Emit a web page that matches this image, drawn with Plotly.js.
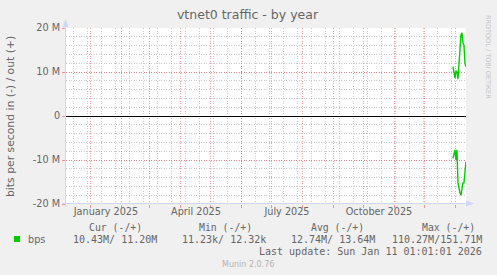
<!DOCTYPE html>
<html><head><meta charset="utf-8">
<script src="https://cdn.plot.ly/plotly-3.0.1.min.js"></script>
<style>html,body{margin:0;padding:0;background:#f0f0f0;}#chart{width:497px;height:275px;}</style>
</head><body><div id="chart"></div>
<script>
// ---- data ----
const days = ['2025-12-29','2025-12-30','2025-12-31','2026-01-01','2026-01-02','2026-01-03','2026-01-04',
              '2026-01-05','2026-01-06','2026-01-07','2026-01-08','2026-01-09','2026-01-10','2026-01-11'];
const outBps = [11.2e6,10.0e6,8.6e6,10.3e6,10.0e6,8.4e6,12.5e6,16.6e6,18.4e6,18.9e6,16.6e6,16.1e6,12.0e6,11.2e6];
const inBps  = [9.6e6,8.2e6,7.7e6,10.0e6,7.7e6,15.2e6,16.5e6,17.5e6,18.0e6,16.0e6,15.2e6,15.2e6,11.5e6,10.43e6];

const monthStarts = ['2025-01-01','2025-02-01','2025-03-01','2025-04-01','2025-05-01','2025-06-01','2025-07-01',
                     '2025-08-01','2025-09-01','2025-10-01','2025-11-01','2025-12-01','2026-01-01'];
const xLabelDates = ['2025-01-16','2025-04-16','2025-07-16','2025-10-16'];
const xLabelText  = ['January 2025','April 2025','July 2025','October 2025'];
const yTickVals = [-20e6,-10e6,0,10e6,20e6];
const yTickText = ['-20 M','-10 M','0','10 M','20 M'];

const seriesName = 'bps';
const statHeads = ['Cur (-/+)','Min (-/+)','Avg (-/+)','Max (-/+)'];
const statVals  = ['10.43M/ 11.20M','11.23k/ 12.32k','12.74M/ 13.64M','110.27M/151.71M'];
const lastUpdate = 'Sun Jan 11 01:01:01 2026';
const titleText = 'vtnet0 traffic - by year';
const yTitle = 'bits per second in (-) / out (+)';

// ---- layout helpers (pixel -> paper) ----
const L = 66, T = 28, W = 400, H = 176;
const px = x => (x - L) / W;
const py = y => (T + H - y) / H;

const FONT = '#666666';
const GRID = 'rgba(150,150,150,0.5)';
const MGRID = 'rgba(225,80,80,0.55)';
const AXIS = '#CFD6F8';
const GREEN = '#00CC00';
const DOT = '1px,1.5px';

const negIn = inBps.map(v => -v);

const traces = [
  {x: days, y: outBps, type: 'scatter', mode: 'lines', line: {color: GREEN, width: 1.4}, hoverinfo: 'skip', showlegend: false},
  {x: days, y: negIn, type: 'scatter', mode: 'lines', line: {color: GREEN, width: 1.4}, hoverinfo: 'skip', showlegend: false},
  {x: xLabelDates, y: xLabelDates.map(() => null), xaxis: 'x2', yaxis: 'y', type: 'scatter', mode: 'lines', hoverinfo: 'skip', showlegend: false}
];

const xRange = ['2024-12-07 01:01:01', '2026-01-11 01:01:01'];

const ann = [];
ann.push({text: yTitle, x: px(11), y: py(117), xref: 'paper', yref: 'paper', showarrow: false, textangle: -90,
  xanchor: 'center', yanchor: 'middle', font: {family: 'DejaVu Sans', size: 10.8, color: FONT}});
ann.push({text: 'RRDTOOL / TOBI OETIKER', x: px(488), y: py(57), xref: 'paper', yref: 'paper', showarrow: false, textangle: 90,
  xanchor: 'center', yanchor: 'middle', font: {family: 'DejaVu Sans', size: 6.5, color: '#c4c4c4'}});
const headRight = [142.7, 253, 365, 476];
const valRight = [158.3, 266.7, 375.7, 483.3];
statHeads.forEach((h, i) => ann.push({text: h, x: px(headRight[i]), y: py(227.7), xref: 'paper', yref: 'paper', showarrow: false,
  xanchor: 'right', yanchor: 'middle', borderpad: 0, font: {family: 'DejaVu Sans Mono', size: 9.8, color: FONT}}));
statVals.forEach((v, i) => ann.push({text: v.replace(/ /g, '&nbsp;'), x: px(valRight[i]), y: py(239.3), xref: 'paper', yref: 'paper', showarrow: false,
  xanchor: 'right', yanchor: 'middle', borderpad: 0, font: {family: 'DejaVu Sans Mono', size: 10, color: FONT}}));
ann.push({text: seriesName, x: px(26.5), y: py(239.3), xref: 'paper', yref: 'paper', showarrow: false,
  xanchor: 'left', yanchor: 'middle', borderpad: 0, font: {family: 'DejaVu Sans', size: 9.7, color: FONT}});
ann.push({text: 'Last update:&nbsp;' + lastUpdate.replace(/ /g, '&nbsp;'), x: px(483.3), y: py(251.7), xref: 'paper', yref: 'paper', showarrow: false,
  xanchor: 'right', yanchor: 'middle', borderpad: 0, font: {family: 'DejaVu Sans Mono', size: 10, color: FONT}});
ann.push({text: 'Munin 2.0.76', x: px(248.3), y: py(264.3), xref: 'paper', yref: 'paper', showarrow: false,
  xanchor: 'center', yanchor: 'middle', borderpad: 0, font: {family: 'DejaVu Sans', size: 8, color: '#b4b4b4'}});

const shapes = [
  {type: 'rect', xref: 'paper', yref: 'paper', x0: px(14), x1: px(20), y0: py(242), y1: py(236), fillcolor: GREEN, line: {width: 0}},
  {type: 'line', xref: 'paper', yref: 'paper', x0: px(65.5), x1: px(65.5), y0: py(207), y1: py(24), line: {color: AXIS, width: 1}},
  {type: 'path', xref: 'paper', yref: 'paper', path: `M${px(65.5)},${py(19)} L${px(62.5)},${py(27)} L${px(68.5)},${py(27)} Z`, fillcolor: AXIS, line: {width: 0}},
  {type: 'line', xref: 'paper', yref: 'paper', x0: px(62), x1: px(468), y0: py(203.5), y1: py(203.5), line: {color: AXIS, width: 1}},
  {type: 'path', xref: 'paper', yref: 'paper', path: `M${px(474)},${py(203.5)} L${px(466)},${py(200.5)} L${px(466)},${py(206.5)} Z`, fillcolor: AXIS, line: {width: 0}}
];

const layout = {
  width: 497, height: 275,
  margin: {l: L, r: 497 - L - W, t: T, b: 275 - T - H, pad: 0},
  paper_bgcolor: '#f0f0f0', plot_bgcolor: '#ffffff',
  title: {text: titleText, x: 0.498, xref: 'container', y: 1 - 15 / 275, yref: 'container', yanchor: 'middle', xanchor: 'center',
          font: {family: 'DejaVu Sans', size: 12.5, color: FONT}},
  showlegend: false,
  hovermode: false,
  xaxis: {type: 'date', range: xRange, tickmode: 'array', tickvals: monthStarts, showticklabels: false,
          showgrid: true, gridcolor: MGRID, griddash: DOT, gridwidth: 1,
          ticks: 'outside', ticklen: 3, tickcolor: MGRID, tickwidth: 1,
          showline: false, zeroline: false, fixedrange: true,
          minor: {tickmode: 'linear', tick0: '2024-12-15', dtick: 14 * 86400000, showgrid: true, gridcolor: GRID, griddash: DOT, gridwidth: 1, ticks: ''}},
  xaxis2: {type: 'date', range: xRange, overlaying: 'x', anchor: 'y', side: 'bottom', tickmode: 'array', tickvals: xLabelDates, ticktext: xLabelText,
           showgrid: false, zeroline: false, showline: false, ticks: '', fixedrange: true,
           tickfont: {family: 'DejaVu Sans', size: 9.7, color: FONT}},
  yaxis: {range: [-20e6, 20e6], tickmode: 'array', tickvals: yTickVals, ticktext: yTickText,
          showgrid: true, gridcolor: MGRID, griddash: DOT, gridwidth: 1,
          zeroline: true, zerolinecolor: '#000000', zerolinewidth: 1,
          ticks: 'outside', ticklen: 3, tickcolor: MGRID, tickwidth: 1, showline: false, fixedrange: true,
          tickfont: {family: 'DejaVu Sans', size: 9.7, color: FONT},
          minor: {dtick: 2e6, tick0: 0, showgrid: true, gridcolor: GRID, griddash: DOT, gridwidth: 1, ticks: ''}},
  annotations: ann,
  shapes: shapes
};

Plotly.newPlot('chart', traces, layout, {staticPlot: true, displayModeBar: false});
</script>
</body></html>
